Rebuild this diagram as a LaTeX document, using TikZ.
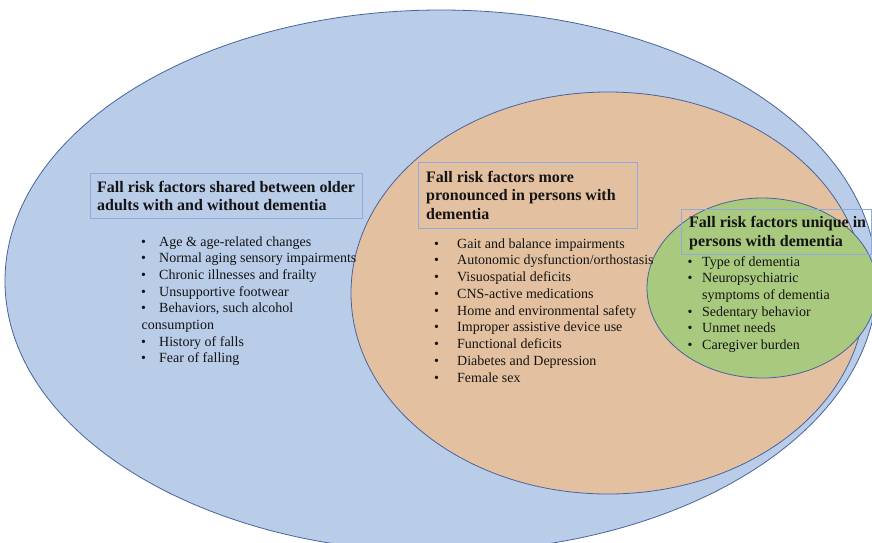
\documentclass[tikz,border=0pt]{standalone}
\usepackage{fontspec}
\setmainfont{Liberation Serif}
\definecolor{bluefill}{RGB}{185,204,232}
\definecolor{orangefill}{RGB}{227,193,160}
\definecolor{greenfill}{RGB}{168,201,126}
\definecolor{edgeblue}{RGB}{72,100,158}
\definecolor{boxblue}{RGB}{143,170,220}
\definecolor{txt}{RGB}{20,20,20}
\begin{document}
\begin{tikzpicture}[x=1pt,y=-1pt,
  region/.style={draw=edgeblue, line width=0.8pt},
  headbox/.style={draw=boxblue, line width=0.9pt, fill=none, inner sep=0pt, anchor=north west},
  headline/.style={anchor=base west, inner sep=0pt, text=txt, font=\bfseries\fontsize{16pt}{18pt}\selectfont},
  itemline/.style={anchor=base west, inner sep=0pt, text=txt, font=\fontsize{14pt}{16.7pt}\selectfont},
  bulletmark/.style={anchor=base, inner sep=0pt, text=txt, font=\fontsize{14pt}{16.7pt}\selectfont}]
\useasboundingbox (0,0) rectangle (872,542);
\clip (0,0) rectangle (872,542);
% regions
\path[region, fill=bluefill] (441,281) ellipse [x radius=436pt, y radius=271pt];
\path[region, fill=orangefill] (608,293) ellipse [x radius=257pt, y radius=201pt];
\path[region, fill=greenfill] (762,288) ellipse [x radius=115pt, y radius=90pt];
% heading boxes
\path (90,173) coordinate (b1a) (362,218) coordinate (b1b);
\draw[draw=boxblue, line width=0.9pt] (b1a) rectangle (b1b);
\path (418,162) coordinate (b2a) (637,228) coordinate (b2b);
\draw[draw=boxblue, line width=0.9pt] (b2a) rectangle (b2b);
\path (681,209) coordinate (b3a) (871,254) coordinate (b3b);
\draw[draw=boxblue, line width=0.9pt] (b3a) rectangle (b3b);
% headings
\node[headline] (h1a) at (97,192) {Fall risk factors shared between older};
\node[headline] (h1b) at (97,210.5) {adults with and without dementia};
\node[headline] (h2a) at (426,182) {Fall risk factors more};
\node[headline] (h2b) at (426,200.5) {pronounced in persons with};
\node[headline] (h2c) at (426,219) {dementia};
\node[headline] (h3a) at (689,227.5) {Fall risk factors unique in};
\node[headline] (h3b) at (689,246) {persons with dementia};
% left list
\foreach \t [count=\i] in {Age \& age-related changes, Normal aging sensory impairments, Chronic illnesses and frailty, Unsupportive footwear, {Behaviors, such alcohol}}{
  \node[bulletmark] (lb\i) at (143.5,{246+16.7*(\i-1)}) {\textbullet};
  \node[itemline] (lt\i) at (159,{246+16.7*(\i-1)}) {\t};
}
\node[itemline] (lt6) at (141.5,329.5) {consumption};
\node[bulletmark] (lb7) at (143.5,346.2) {\textbullet};
\node[itemline] (lt7) at (159,346.2) {History of falls};
\node[bulletmark] (lb8) at (143.5,362.9) {\textbullet};
\node[itemline] (lt8) at (159,362.9) {Fear of falling};
% middle list
\foreach \t [count=\i] in {Gait and balance impairments, Autonomic dysfunction/orthostasis, Visuospatial deficits, CNS-active medications, Home and environmental safety, Improper assistive device use, Functional deficits, Diabetes and Depression, Female sex}{
  \node[bulletmark] (mb\i) at (436.5,{248+16.75*(\i-1)}) {\textbullet};
  \node[itemline] (mt\i) at (457,{248+16.75*(\i-1)}) {\t};
}
% right list
\node[bulletmark] (rb1) at (690,266) {\textbullet};
\node[itemline] (rt1) at (702,266) {Type of dementia};
\node[bulletmark] (rb2) at (690,282.7) {\textbullet};
\node[itemline] (rt2) at (702,282.7) {Neuropsychiatric};
\node[itemline] (rt2b) at (702,299.4) {symptoms of dementia};
\node[bulletmark] (rb3) at (690,316.1) {\textbullet};
\node[itemline] (rt3) at (702,316.1) {Sedentary behavior};
\node[bulletmark] (rb4) at (690,332.8) {\textbullet};
\node[itemline] (rt4) at (702,332.8) {Unmet needs};
\node[bulletmark] (rb5) at (690,349.5) {\textbullet};
\node[itemline] (rt5) at (702,349.5) {Caregiver burden};
\end{tikzpicture}
\end{document}
